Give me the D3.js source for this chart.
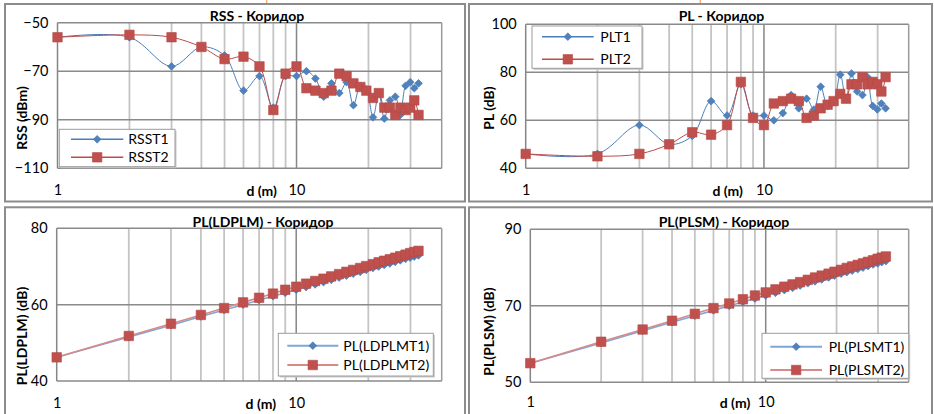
<!DOCTYPE html>
<html>
<head>
<meta charset="utf-8">
<script src="https://cdn.jsdelivr.net/npm/d3@7"></script>
<style>
  body { margin: 0; background: #fff; }
  svg { display: block; font-family: Lato, "Open Sans", sans-serif; }
</style>
</head>
<body>
<svg id="chart" width="934" height="414"></svg>
<script>
// Distance from transmitter, metres
const distances = [1, 2, 3, 4, 5, 6, 7, 8, 9, 10, 11, 12, 13, 14, 15.1, 16.2, 17.3, 18.5, 19.6,
  20.9, 22.1, 23.3, 24.6, 25.9, 27.2, 28.6, 29.9, 31.1, 32.4];

// Received signal strength, dBm
const rssT1 = [-56, -56, -68, -60, -63.5, -78, -72, -85, -72, -72, -70, -73, -80.5, -75, -79, -74.5, -84, -76, -77.5,
  -89, -79, -89.5, -82, -80.5, -88, -76, -74.5, -77, -75];
const rssT2 = [-56, -55, -56, -60, -65, -64, -68, -86, -71, -68, -77, -78, -79, -78, -71, -72, -75, -76.5,
  -78, -81, -79, -85, -85, -88, -85, -86, -85, -82, -88];

// Measured path loss, dB
const plT1 = [46, 46, 58, 50, 53.5, 68, 62, 75, 62, 62, 60, 63, 70.5, 65, 69, 64.5, 74, 66, 67.5,
  79, 69, 79.5, 72, 70.5, 78, 66, 64.5, 67, 65];
const plT2 = [46, 45, 46, 50, 55, 54, 58, 76, 61, 58, 67, 68, 69, 68, 61, 62, 65, 66.5,
  68, 71, 69, 75, 75, 78, 75, 76, 75, 72, 78];

// Log-distance path loss model, dB
const ldplmT1 = [46.2, 51.5, 54.6, 56.9, 58.6, 60.0, 61.2, 62.2, 63.1, 63.9, 64.6, 65.3, 65.9, 66.5, 67.1, 67.6, 68.1, 68.6, 69.1,
  69.6, 70.0, 70.4, 70.8, 71.2, 71.6, 72.0, 72.3, 72.6, 72.9];
const ldplmT2 = [46.2, 51.8, 55.0, 57.3, 59.1, 60.6, 61.8, 62.9, 63.9, 64.7, 65.5, 66.2, 66.8, 67.4, 68.0, 68.6, 69.1, 69.6, 70.1,
  70.6, 71.1, 71.5, 71.9, 72.3, 72.7, 73.1, 73.5, 73.8, 74.1];

// Path loss slope model, dB
const plsmT1 = [55.0, 60.3, 63.5, 65.7, 67.4, 68.8, 70.0, 71.0, 71.9, 72.7, 73.4, 74.1, 74.7, 75.3, 75.9, 76.4, 76.9, 77.4, 77.9,
  78.4, 78.8, 79.2, 79.6, 80.0, 80.4, 80.8, 81.1, 81.4, 81.7];
const plsmT2 = [55.0, 60.6, 63.8, 66.1, 67.9, 69.4, 70.6, 71.7, 72.7, 73.5, 74.3, 75.0, 75.6, 76.2, 76.8, 77.4, 77.9, 78.4, 78.9,
  79.4, 79.9, 80.3, 80.7, 81.1, 81.5, 81.9, 82.3, 82.6, 82.9];

// Axis ticks
const xTickLabels = [1, 10];
const xMinorGrid = [2, 3, 4, 5, 6, 7, 8, 9, 20, 30];
const xMajorGrid = [10];
const rssTicks = [-110, -90, -70, -50];
const plTicks = [40, 60, 80, 100];
const ldplmTicks = [40, 60, 80];
const plsmTicks = [50, 70, 90];

const X_MAX = 40.5;
const BLUE = "#4F81BD", RED = "#C0504D";

const svg = d3.select("#chart");

// small orange marks along the top edge
svg.selectAll("line.topmark").data([266.7, 700.3]).join("line")
  .attr("x1", d => d).attr("x2", d => d).attr("y1", 0).attr("y2", 3)
  .attr("stroke", "#F2A36E").attr("stroke-width", 1.2);

const panels = [
  {
    frame: [5, 4, 460, 197.5],
    plot: { left: 57.5, right: 441.7, top: 22.7, bottom: 168.3 },
    yDomain: [-110, -50], yTicks: rssTicks,
    title: "RSS - Коридор", titlePos: [257, 21],
    yTitle: "RSS (dBm)", yTitlePos: [22, 118],
    xTitlePos: [261.7, 196], xLabelBase: 195,
    legend: { x: 59.3, y: 129.3, w: 115.7, h: 37.4, rows: [139.3, 157.3], line: [71, 123.3], textX: 128.3 },
    series: [{ name: "RSST1", values: rssT1, color: BLUE, lineColor: "#4A7EBB", lw: 1 },
             { name: "RSST2", values: rssT2, color: RED, lineColor: "#BE4B48", lw: 1 }],
    smooth: true
  },
  {
    frame: [469, 4, 463, 197.5],
    plot: { left: 525.7, right: 908.7, top: 24.3, bottom: 168.3 },
    yDomain: [40, 100], yTicks: plTicks,
    title: "PL - Коридор", titlePos: [721.5, 21],
    yTitle: "PL (dB)", yTitlePos: [488.7, 108],
    xTitlePos: [727.7, 196], xLabelBase: 195,
    legend: { x: 532, y: 26, w: 110, h: 42.3, rows: [36.7, 59.3], line: [542, 593.7], textX: 600.3 },
    series: [{ name: "PLT1", values: plT1, color: BLUE, lineColor: "#4A7EBB", lw: 1 },
             { name: "PLT2", values: plT2, color: RED, lineColor: "#BE4B48", lw: 1 }],
    smooth: true
  },
  {
    frame: [5, 207.3, 460, 220],
    plot: { left: 56.7, right: 441.7, top: 228.3, bottom: 381 },
    yDomain: [40, 80], yTicks: ldplmTicks,
    title: "PL(LDPLM) - Коридор", titlePos: [263, 227],
    yTitle: "PL(LDPLM) (dB)", yTitlePos: [21.7, 336],
    xTitlePos: [260.8, 409], xLabelBase: 408,
    legend: { x: 278.3, y: 333.3, w: 155, h: 42.7, rows: [345.7, 365], line: [287.3, 338.3], textX: 343.3 },
    series: [{ name: "PL(LDPLMT1)", values: ldplmT1, color: BLUE, lineColor: "#7EA6D9", lw: 1.6 },
             { name: "PL(LDPLMT2)", values: ldplmT2, color: RED, lineColor: "#D98A87", lw: 1.6 }],
    smooth: false
  },
  {
    frame: [469, 207.3, 463, 220],
    plot: { left: 530.3, right: 908.7, top: 229.3, bottom: 382.3 },
    yDomain: [50, 90], yTicks: plsmTicks,
    title: "PL(PLSM) - Коридор", titlePos: [724, 227],
    yTitle: "PL(PLSM) (dB)", yTitlePos: [488.7, 331.5],
    xTitlePos: [735, 408], xLabelBase: 407,
    legend: { x: 762, y: 333.3, w: 146.7, h: 45, rows: [346.7, 370], line: [770.3, 822], textX: 828.7 },
    series: [{ name: "PL(PLSMT1)", values: plsmT1, color: BLUE, lineColor: "#7EA6D9", lw: 1.6 },
             { name: "PL(PLSMT2)", values: plsmT2, color: RED, lineColor: "#D98A87", lw: 1.6 }],
    smooth: false
  }
];

const diamond = d3.symbol(d3.symbolSquare).size(30);
const square = d3.symbol(d3.symbolSquare).size(90);

function marker(sel, idx, color) {
  if (idx === 0) {
    sel.attr("d", diamond).attr("fill", color).attr("stroke", "#4677B3").attr("stroke-width", 0.6);
  } else {
    sel.attr("d", square).attr("fill", color).attr("stroke", "#B34945").attr("stroke-width", 0.6);
  }
}

panels.forEach(p => {
  const g = svg.append("g");
  const [fx, fy, fw, fh] = p.frame;
  g.append("rect").attr("x", fx).attr("y", fy).attr("width", fw).attr("height", fh)
    .attr("fill", "#fff").attr("stroke", "#8C8C8C").attr("stroke-width", 2);

  const x = d3.scaleLog().domain([1, X_MAX]).range([p.plot.left, p.plot.right]);
  const y = d3.scaleLinear().domain(p.yDomain).range([p.plot.bottom, p.plot.top]);

  // minor vertical gridlines
  g.selectAll("line.minor").data(xMinorGrid).join("line")
    .attr("x1", d => x(d)).attr("x2", d => x(d))
    .attr("y1", p.plot.top).attr("y2", p.plot.bottom)
    .attr("stroke", "#C4C4C4").attr("stroke-width", 1.8);
  // major vertical gridlines
  g.selectAll("line.major").data(xMajorGrid).join("line")
    .attr("x1", d => x(d)).attr("x2", d => x(d))
    .attr("y1", p.plot.top).attr("y2", p.plot.bottom)
    .attr("stroke", "#858585").attr("stroke-width", 1.5);
  // horizontal gridlines
  g.selectAll("line.hgrid").data(p.yTicks).join("line")
    .attr("x1", p.plot.left).attr("x2", p.plot.right)
    .attr("y1", d => y(d)).attr("y2", d => y(d))
    .attr("stroke", "#8A8A8A").attr("stroke-width", 1.5);
  // plot edges
  g.append("line").attr("x1", p.plot.right).attr("x2", p.plot.right)
    .attr("y1", p.plot.top).attr("y2", p.plot.bottom)
    .attr("stroke", "#9A9A9A").attr("stroke-width", 1.5);
  g.append("line").attr("x1", p.plot.left).attr("x2", p.plot.left)
    .attr("y1", p.plot.top).attr("y2", p.plot.bottom)
    .attr("stroke", "#858585").attr("stroke-width", 1.5);

  // y tick labels
  const yAxis = g.append("g").attr("transform", `translate(${p.plot.left},0)`)
    .call(d3.axisLeft(y).tickValues(p.yTicks).tickSize(0).tickPadding(9));
  yAxis.select(".domain").remove();
  yAxis.selectAll("text").attr("font-size", 14.5).attr("fill", "#000").attr("font-family", "Lato, sans-serif");

  // x tick labels
  const xAxis = g.append("g").attr("transform", `translate(0,${p.xLabelBase - 10})`)
    .call(d3.axisBottom(x).tickValues(xTickLabels).tickFormat(d3.format("d")).tickSize(0).tickPadding(0));
  xAxis.select(".domain").remove();
  xAxis.selectAll("text").attr("dy", "0.72em").attr("font-size", 14.5).attr("fill", "#000").attr("font-family", "Lato, sans-serif");

  // series
  const line = d3.line()
    .x((d, i) => x(distances[i]))
    .y(d => y(d))
    .curve(p.smooth ? d3.curveCatmullRom.alpha(0.5) : d3.curveLinear);

  p.series.forEach((s, si) => {
    g.append("path").attr("d", line(s.values))
      .attr("fill", "none").attr("stroke", s.lineColor).attr("stroke-width", s.lw);
    g.selectAll(`path.m${si}`).data(s.values).join("path")
      .attr("class", `m${si}`)
      .call(marker, si, s.color)
      .attr("transform", (d, i) => `translate(${x(distances[i])},${y(d)})` + (si === 0 ? " rotate(45)" : ""));
  });

  // chart title
  g.append("text").attr("x", p.titlePos[0]).attr("y", p.titlePos[1])
    .attr("text-anchor", "middle").attr("font-weight", "bold").attr("font-size", 14)
    .text(p.title);

  // axis titles
  g.append("text").attr("transform", `translate(${p.yTitlePos[0]},${p.yTitlePos[1]}) rotate(-90)`)
    .attr("text-anchor", "middle").attr("dy", "0.35em").attr("font-weight", "bold").attr("font-size", 14)
    .text(p.yTitle);
  g.append("text").attr("x", p.xTitlePos[0]).attr("y", p.xTitlePos[1])
    .attr("text-anchor", "middle").attr("font-weight", "bold").attr("font-size", 14)
    .text("d (m)");

  // legend
  const L = p.legend;
  const lg = g.append("g");
  lg.append("rect").attr("x", L.x + 1.5).attr("y", L.y + 1.5).attr("width", L.w).attr("height", L.h)
    .attr("fill", "#C8C8C8");
  lg.append("rect").attr("x", L.x).attr("y", L.y).attr("width", L.w).attr("height", L.h)
    .attr("fill", "#fff").attr("stroke", "#9C9C9C").attr("stroke-width", 1);
  p.series.forEach((s, si) => {
    const ry = L.rows[si];
    lg.append("line").attr("x1", L.line[0]).attr("x2", L.line[1]).attr("y1", ry).attr("y2", ry)
      .attr("stroke", s.lineColor).attr("stroke-width", s.lw + 0.4);
    lg.append("path").call(marker, si, s.color)
      .attr("transform", `translate(${(L.line[0] + L.line[1]) / 2},${ry})` + (si === 0 ? " rotate(45)" : ""));
    lg.append("text").attr("x", L.textX).attr("y", ry).attr("dy", "0.36em")
      .attr("font-size", 14).text(s.name);
  });
});
</script>
</body>
</html>
